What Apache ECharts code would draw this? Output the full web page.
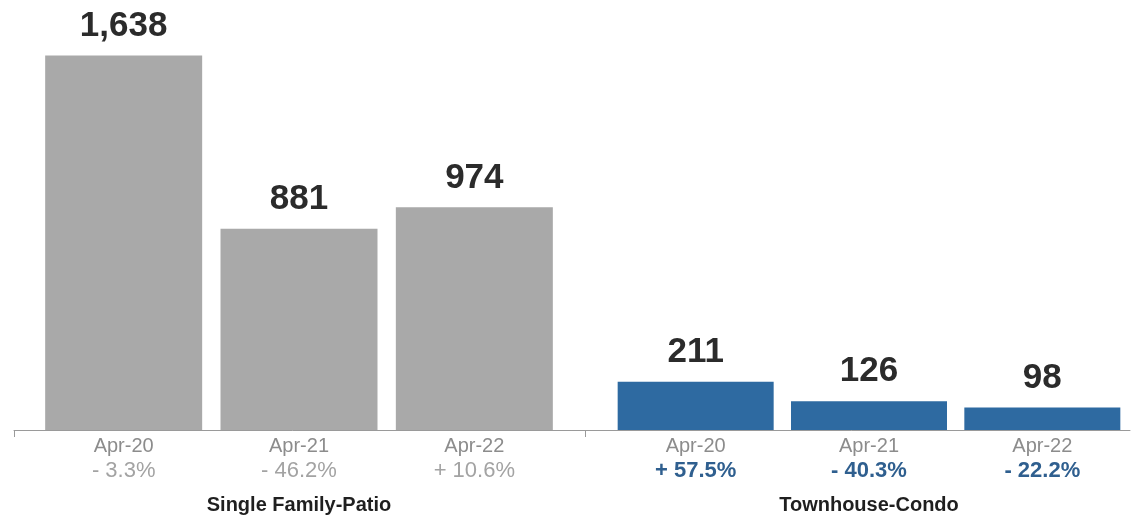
<!DOCTYPE html>
<html>
<head>
<meta charset="utf-8">
<script src="https://cdn.jsdelivr.net/npm/echarts@6/dist/echarts.min.js"></script>
<style>
  html, body { margin: 0; padding: 0; background: #fff; }
  #main { width: 1136px; height: 515px; }
</style>
</head>
<body>
<div id="main"></div>
<script>
var months = ['Apr-20', 'Apr-21', 'Apr-22'];
var groupNames = ['Single Family-Patio', 'Townhouse-Condo'];
var singleFamily = [1638, 881, 974];
var townhouse = [211, 126, 98];
var singleFamilyPct = ['- 3.3%', '- 46.2%', '+ 10.6%'];
var townhousePct = ['+ 57.5%', '- 40.3%', '- 22.2%'];

var font = '"Liberation Sans", Arial, Helvetica, sans-serif';
var myChart = echarts.init(document.getElementById('main'));

function catAxis(gridIndex, pcts, pctStyle) {
    return {
        type: 'category',
        gridIndex: gridIndex,
        data: months,
        axisLine: { show: false },
        axisTick: { show: false },
        axisLabel: {
            margin: 4,
            formatter: function (v, i) {
                return '{d|' + v + '}\n{p|' + pcts[i] + '}';
            },
            rich: {
                d: { fontFamily: font, fontSize: 20, color: '#8c8c8c', lineHeight: 24 },
                p: Object.assign({ fontFamily: font, fontSize: 22, lineHeight: 25 }, pctStyle)
            }
        }
    };
}

function valAxis(gridIndex) {
    return {
        type: 'value',
        gridIndex: gridIndex,
        min: 0,
        max: 1750,
        show: false
    };
}

var valueLabel = {
    show: true,
    position: 'top',
    distance: 12,
    fontFamily: font,
    fontSize: 35,
    fontWeight: 'bold',
    color: '#2b2b2b',
    formatter: function (p) { return p.value.toLocaleString('en-US'); }
};

option = {
    animation: false,
    grid: [
        { left: 36, width: 526, top: 30, bottom: 85 },
        { left: 609, width: 520, top: 30, bottom: 85 },
        // baseline spanning both groups
        { left: 14, width: 1116, top: 30, bottom: 85 }
    ],
    xAxis: [
        catAxis(0, singleFamilyPct, { color: '#a3a3a3' }),
        catAxis(1, townhousePct, { color: '#2f5f8f', fontWeight: 'bold' }),
        {
            type: 'value',
            gridIndex: 2,
            min: 0,
            max: 1116,
            position: 'bottom',
            axisLine: { show: true, onZero: false, lineStyle: { color: '#9a9a9a', width: 1 } },
            axisTick: { show: true, inside: false, length: 7, customValues: [0, 571], lineStyle: { color: '#9a9a9a' } },
            axisLabel: { show: false },
            splitLine: { show: false }
        }
    ],
    yAxis: [valAxis(0), valAxis(1), valAxis(2)],
    series: [
        {
            type: 'bar',
            xAxisIndex: 0,
            yAxisIndex: 0,
            data: singleFamily,
            barWidth: 157,
            itemStyle: { color: '#a9a9a9' },
            label: valueLabel
        },
        {
            type: 'bar',
            xAxisIndex: 1,
            yAxisIndex: 1,
            data: townhouse,
            barWidth: 156,
            itemStyle: { color: '#2e6aa1' },
            label: valueLabel
        }
    ],
    graphic: [
        {
            type: 'text',
            x: 299,
            y: 505,
            style: {
                text: groupNames[0],
                font: 'bold 20px ' + font,
                fill: '#1f1f1f',
                textAlign: 'center',
                textVerticalAlign: 'middle'
            }
        },
        {
            type: 'text',
            x: 869,
            y: 505,
            style: {
                text: groupNames[1],
                font: 'bold 20px ' + font,
                fill: '#1f1f1f',
                textAlign: 'center',
                textVerticalAlign: 'middle'
            }
        }
    ]
};
myChart.setOption(option);
</script>
</body>
</html>
